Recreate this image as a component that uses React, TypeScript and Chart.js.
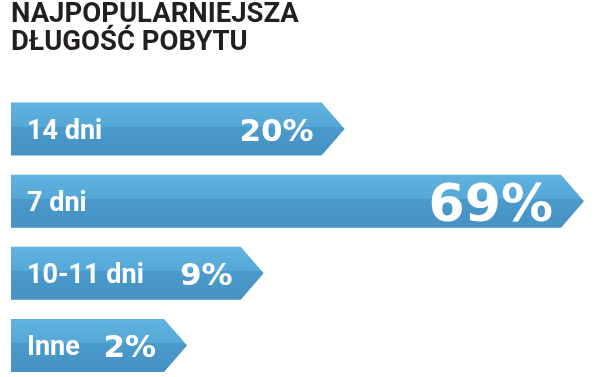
import React, { useEffect, useRef } from 'react';
import { Chart, registerables, LinearScale } from 'chart.js';

// ---- data ----
const titleLines = ['NAJPOPULARNIEJSZA', 'DŁUGOŚĆ POBYTU'];
const categories = ['14 dni', '7 dni', '10-11 dni', 'Inne'];
const shares = [20, 69, 9, 2];
const valueSuffix = '%';

// ---- scale settings ----
const EXP = 0.62;
const AXIS_MIN = -9;
const AXIS_MAX = 70;

class PowScale extends LinearScale {
  static id = 'pow';
  static defaults = LinearScale.defaults;
  tf(v: number) {
    return Math.sign(v) * Math.pow(Math.abs(v), EXP);
  }
  getPixelForValue(value: number) {
    if (value === null || value === undefined || isNaN(value)) return NaN;
    const a = this.tf(this.min);
    const b = this.tf(this.max);
    return this.getPixelForDecimal((this.tf(value) - a) / (b - a));
  }
  getValueForPixel(pixel: number) {
    const dec = this.getDecimalForPixel(pixel);
    const a = this.tf(this.min);
    const b = this.tf(this.max);
    const t = a + dec * (b - a);
    return Math.sign(t) * Math.pow(Math.abs(t), 1 / EXP);
  }
}

Chart.register(...registerables, PowScale as any);

const TIP = 23;
const arrowPlugin = {
  id: 'arrowBars',
  afterDatasetsDraw(chart: any) {
    const ctx = chart.ctx;
    const meta = chart.getDatasetMeta(0);
    const labels = chart.data.labels as string[];
    const values = chart.data.datasets[0].data as number[];
    const maxV = Math.max(...values);
    meta.data.forEach((el: any, i: number) => {
      const { x, y, base, height } = el.getProps(['x', 'y', 'base', 'height'], true);
      const top = y - height / 2;
      const bottom = y + height / 2;
      const bodyEnd = x - TIP;
      const g = ctx.createLinearGradient(0, top, 0, bottom);
      g.addColorStop(0, '#60b2df');
      g.addColorStop(0.46, '#55a7d7');
      g.addColorStop(0.46, '#4a9acb');
      g.addColorStop(1, '#4592c4');
      ctx.save();
      ctx.fillStyle = g;
      ctx.beginPath();
      ctx.moveTo(base, top);
      ctx.lineTo(bodyEnd, top);
      ctx.lineTo(x, y);
      ctx.lineTo(bodyEnd, bottom);
      ctx.lineTo(base, bottom);
      ctx.closePath();
      ctx.fill();

      ctx.fillStyle = '#ffffff';
      ctx.textBaseline = 'alphabetic';
      // category label
      const ls = 27;
      ctx.font = `bold ${ls}px Roboto`;
      ctx.textAlign = 'left';
      ctx.fillText(labels[i], base + 16, y + 0.3555 * ls);
      // value label
      const vs = values[i] === maxV ? 52 : 31;
      ctx.font = `bold ${vs}px "DejaVu Sans"`;
      ctx.textAlign = 'right';
      ctx.fillText(`${values[i]}${valueSuffix}`, bodyEnd - 8, y + 0.5 + 0.3645 * vs);
      ctx.restore();
    });
  },
};

export default function App() {
  const ref = useRef<HTMLCanvasElement>(null);
  useEffect(() => {
    document.body.style.margin = '0';
    const chart = new Chart(ref.current!, {
      type: 'bar',
      data: {
        labels: categories,
        datasets: [
          {
            data: shares,
            base: AXIS_MIN,
            backgroundColor: 'rgba(0,0,0,0)',
            borderWidth: 0,
            barThickness: 53,
          } as any,
        ],
      },
      plugins: [arrowPlugin],
      options: {
        animation: false,
        responsive: true,
        maintainAspectRatio: false,
        indexAxis: 'y',
        layout: { padding: { left: 11, right: 12, top: 0, bottom: 31.5 } },
        scales: {
          x: { type: 'pow' as any, min: AXIS_MIN, max: AXIS_MAX, display: false },
          y: { type: 'category', offset: false, display: false },
        },
        plugins: {
          legend: { display: false },
          tooltip: { enabled: false },
          title: {
            display: true,
            text: titleLines,
            align: 'start',
            color: '#231f20',
            font: { family: 'Roboto', weight: 'bold', size: 27.5, lineHeight: '28px' },
            padding: { top: 1.5, bottom: 71.5 },
          },
        },
      },
    });
    return () => chart.destroy();
  }, []);
  return (
    <div style={{ position: 'relative', width: 600, height: 377 }}>
      <canvas ref={ref} />
    </div>
  );
}
